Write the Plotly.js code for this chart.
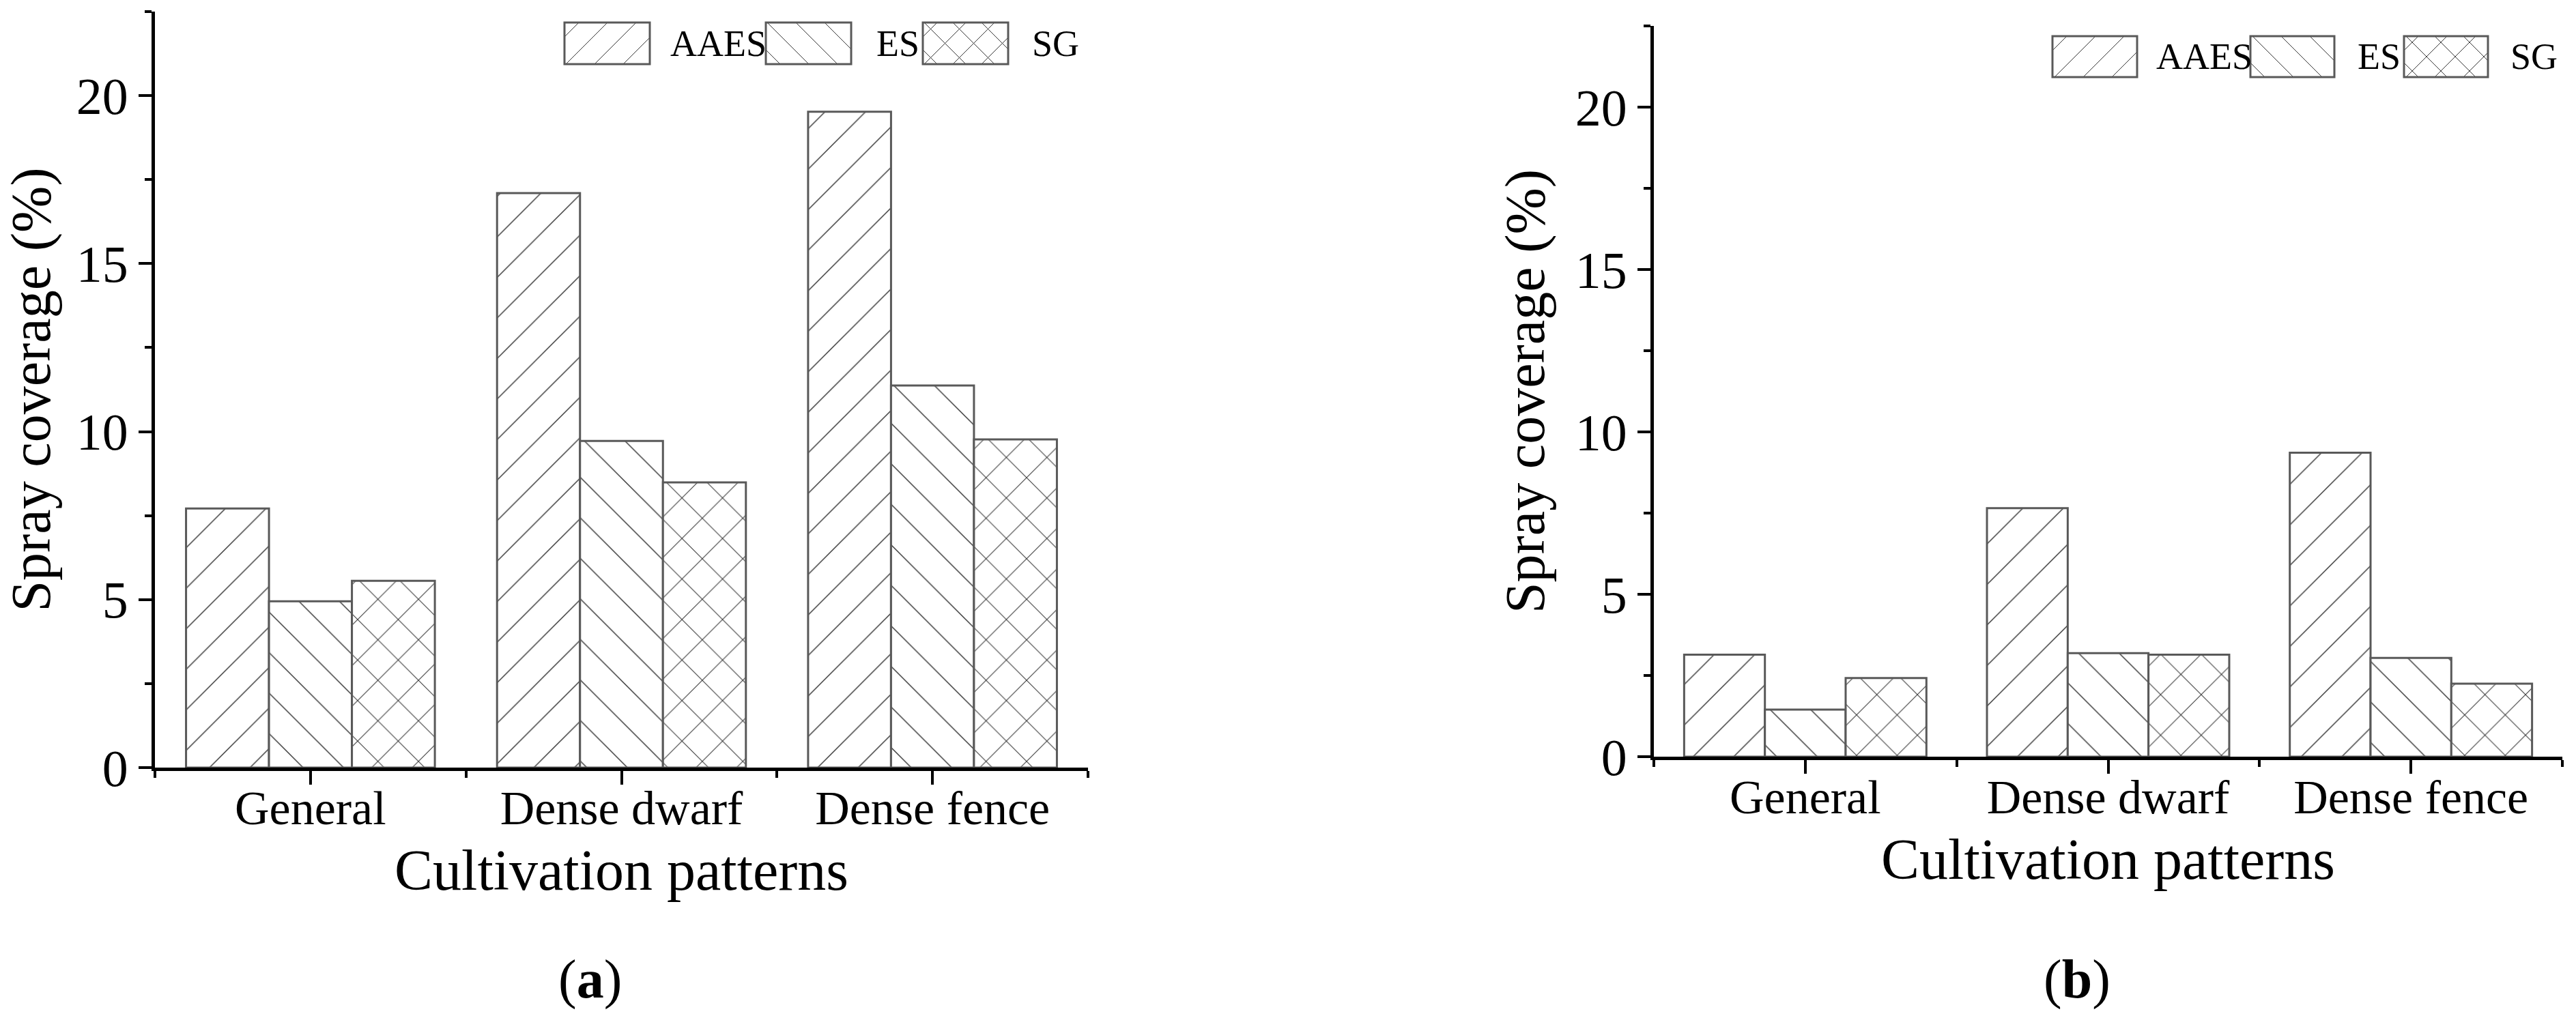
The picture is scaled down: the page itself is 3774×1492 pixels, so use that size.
<!DOCTYPE html>
<html>
<head>
<meta charset="utf-8">
<script src="https://cdn.plot.ly/plotly-3.0.1.min.js"></script>
<style>html,body{margin:0;padding:0;background:#fff;}#chart{width:3774px;height:1492px;}</style>
</head>
<body>
<div id="chart"></div>
<script>
// ---- data ----
const categories = ['General', 'Dense dwarf', 'Dense fence'];
const seriesNames = ['AAES', 'ES', 'SG'];
const panelA_AAES = [7.71, 17.10, 19.52];
const panelA_ES   = [4.95, 9.72, 11.37];
const panelA_SG   = [5.56, 8.49, 9.77];
const panelB_AAES = [3.14, 7.65, 9.36];
const panelB_ES   = [1.45, 3.19, 3.04];
const panelB_SG   = [2.42, 3.14, 2.25];
const yTickVals = [0, 5, 10, 15, 20];
const panelLabels = ['a', 'b'];
const xTitle = 'Cultivation patterns';
const yTitle = 'Spray coverage (%)';

// ---- layout helpers ----
const W = 3774, H = 1492;
const FONT = 'Liberation Serif, Times New Roman, serif';
const px = p => p / W;
const py = p => 1 - p / H;
const xIdx = categories.map((c, i) => i);
const patterns = ['/', '\\', 'x'];
const solidities = [0.035, 0.035, 0.05];

function barTrace(name, vals, k, xa, ya) {
  return {
    type: 'bar', name: name, x: xIdx, y: vals, xaxis: xa, yaxis: ya,
    showlegend: false,
    marker: {
      color: '#ffffff',
      line: {color: '#595959', width: 3},
      pattern: {shape: patterns[k], size: 42, solidity: solidities[k], fgcolor: '#3a3a3a', bgcolor: '#ffffff'}
    },
    hoverinfo: 'x+y+name'
  };
}

const data = [
  barTrace(seriesNames[0], panelA_AAES, 0, 'x', 'y'),
  barTrace(seriesNames[1], panelA_ES, 1, 'x', 'y'),
  barTrace(seriesNames[2], panelA_SG, 2, 'x', 'y'),
  barTrace(seriesNames[0], panelB_AAES, 0, 'x2', 'y2'),
  barTrace(seriesNames[1], panelB_ES, 1, 'x2', 'y2'),
  barTrace(seriesNames[2], panelB_SG, 2, 'x2', 'y2')
];

function xAxis(domain, anchor) {
  return {
    domain: domain, anchor: anchor, range: [-0.5, 2.5],
    tickmode: 'array', tickvals: xIdx, ticktext: categories,
    ticks: 'outside', ticklen: 20, tickwidth: 4, tickcolor: '#000',
    ticklabelstandoff: -26,
    minor: {tickmode: 'array', tickvals: [-0.5, 0.5, 1.5, 2.5], ticks: 'outside', ticklen: 10, tickwidth: 4, tickcolor: '#000', showgrid: false},
    showline: true, linewidth: 5, linecolor: '#000',
    showgrid: false, zeroline: false, automargin: false,
    tickfont: {family: FONT, size: 70, color: '#000'},
    title: {text: xTitle, font: {family: FONT, size: 84, color: '#000'}, standoff: 25}
  };
}
function yAxis(domain, anchor) {
  return {
    domain: domain, anchor: anchor, range: [0, 22.5],
    tickmode: 'array', tickvals: yTickVals,
    ticks: 'outside', ticklen: 19, tickwidth: 4, tickcolor: '#000',
    minor: {tick0: 0, dtick: 2.5, ticks: 'outside', ticklen: 10, tickwidth: 4, tickcolor: '#000', showgrid: false},
    showline: true, linewidth: 5, linecolor: '#000',
    showgrid: false, zeroline: false, automargin: false,
    tickfont: {family: FONT, size: 76, color: '#000'},
    title: {text: yTitle, font: {family: FONT, size: 82, color: '#000'}, standoff: 20}
  };
}

// manual legend: hatched swatches drawn as shapes
function hatchPath(x0, y0, x1, y1, spacing, dir) {
  let d = '';
  const seg = (ax, ay, bx, by) => { d += 'M' + px(ax).toFixed(6) + ',' + py(ay).toFixed(6) + 'L' + px(bx).toFixed(6) + ',' + py(by).toFixed(6); };
  if (dir === '/' || dir === 'x') {
    for (let c = x0 + y0 + spacing / 2; c < x1 + y1; c += spacing) {
      const lo = Math.max(x0, c - y1), hi = Math.min(x1, c - y0);
      if (lo < hi) seg(lo, c - lo, hi, c - hi);
    }
  }
  if (dir === '\\' || dir === 'x') {
    for (let c = x0 - y1 + spacing / 2; c < x1 - y0; c += spacing) {
      const lo = Math.max(x0, c + y0), hi = Math.min(x1, c + y1);
      if (lo < hi) seg(lo, lo - c, hi, hi - c);
    }
  }
  return d;
}

const shapes = [];
const annotations = [];
const legendSpec = [
  {boxes: [[827, 952], [1122, 1247], [1352, 1477]], texts: [[989, 1115], [1286, 1345], [1515, 1578]], y: [33, 94]},
  {boxes: [[3007, 3131], [3297, 3420], [3522, 3645]], texts: [[3167, 3291], [3457, 3513], [3682, 3742]], y: [53, 113]}
];
legendSpec.forEach(spec => {
  spec.boxes.forEach((b, k) => {
    shapes.push({type: 'path', xref: 'paper', yref: 'paper', path: hatchPath(b[0], spec.y[0], b[1], spec.y[1], 42, patterns[k]), line: {color: '#3a3a3a', width: 1}});
    shapes.push({type: 'rect', xref: 'paper', yref: 'paper', x0: px(b[0]), x1: px(b[1]), y0: py(spec.y[0]), y1: py(spec.y[1]), line: {color: '#595959', width: 3}, fillcolor: 'rgba(0,0,0,0)'});
  });
  spec.texts.forEach((t, k) => {
    annotations.push({xref: 'paper', yref: 'paper', x: px((t[0] + t[1]) / 2), y: py((spec.y[0] + spec.y[1]) / 2), xanchor: 'center', yanchor: 'middle', showarrow: false, text: seriesNames[k], font: {family: FONT, size: 54, color: '#000'}});
  });
});

annotations.push({xref: 'paper', yref: 'paper', x: px(864), y: py(1435), xanchor: 'center', yanchor: 'middle', showarrow: false, text: '(<b>' + panelLabels[0] + '</b>)', font: {family: FONT, size: 80, color: '#000'}});
annotations.push({xref: 'paper', yref: 'paper', x: px(3043), y: py(1435), xanchor: 'center', yanchor: 'middle', showarrow: false, text: '(<b>' + panelLabels[1] + '</b>)', font: {family: FONT, size: 80, color: '#000'}});

const layout = {
  width: W, height: H,
  margin: {l: 0, r: 0, t: 0, b: 0, pad: 0},
  paper_bgcolor: '#ffffff', plot_bgcolor: '#ffffff',
  font: {family: FONT, color: '#000'},
  barmode: 'group', bargap: 0.2, bargroupgap: 0,
  showlegend: false,
  xaxis: xAxis([px(227), px(1594)], 'y'),
  yaxis: yAxis([py(1125), py(17)], 'x'),
  xaxis2: xAxis([px(2423), px(3754)], 'y2'),
  yaxis2: yAxis([py(1109), py(38)], 'x2'),
  shapes: shapes,
  annotations: annotations
};

Plotly.newPlot('chart', data, layout, {staticPlot: true, displayModeBar: false});
</script>
</body>
</html>
